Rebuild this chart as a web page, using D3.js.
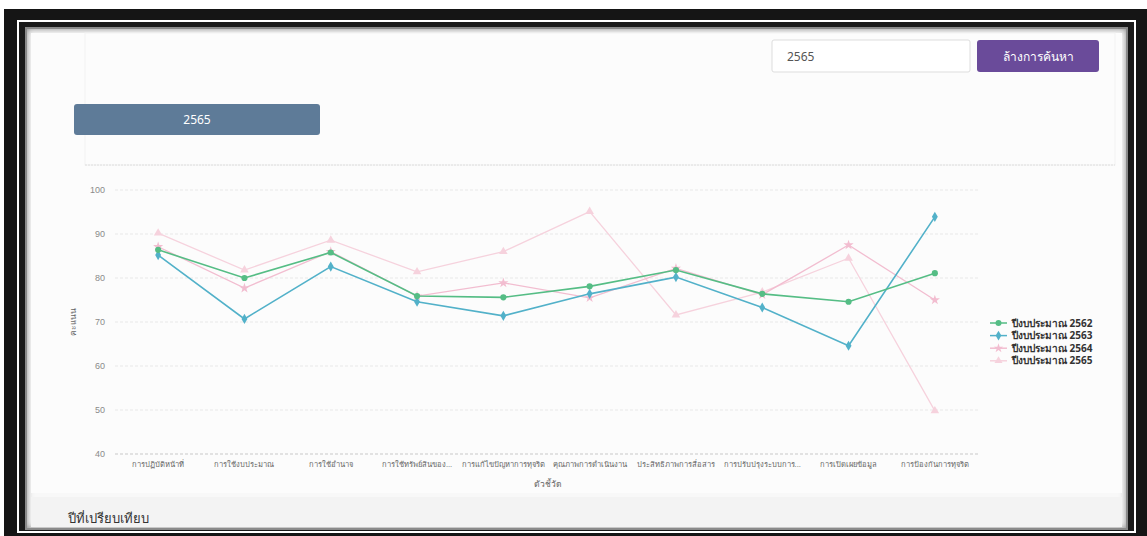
<!DOCTYPE html>
<html>
<head>
<meta charset="utf-8">
<script src="https://cdnjs.cloudflare.com/ajax/libs/d3/7.8.5/d3.min.js"></script>
<style>
  html, body { margin: 0; padding: 0; background: #fff; }
  body { width: 1147px; height: 536px; overflow: hidden; }
  svg { display: block; font-family: "Noto Sans", "DejaVu Sans", sans-serif; }
</style>
</head>
<body>
<svg id="chart" width="1147" height="536"></svg>
<script>
  var categories = [
    'การปฏิบัติหน้าที่',
    'การใช้งบประมาณ',
    'การใช้อำนาจ',
    'การใช้ทรัพย์สินของ...',
    'การแก้ไขปัญหาการทุจริต',
    'คุณภาพการดำเนินงาน',
    'ประสิทธิภาพการสื่อสาร',
    'การปรับปรุงระบบการ...',
    'การเปิดเผยข้อมูล',
    'การป้องกันการทุจริต'
  ];
  var seriesNames = ['ปีงบประมาณ 2562', 'ปีงบประมาณ 2563', 'ปีงบประมาณ 2564', 'ปีงบประมาณ 2565'];
  var values2562 = [86.4, 80.0, 85.8, 75.9, 75.6, 78.1, 81.8, 76.4, 74.6, 81.1];
  var values2563 = [85.2, 70.7, 82.6, 74.6, 71.4, 76.4, 80.2, 73.3, 64.6, 93.9];
  var values2564 = [87.1, 77.7, 86.0, 75.9, 78.9, 75.5, 82.2, 76.2, 87.5, 75.0];
  var values2565 = [90.2, 81.8, 88.6, 81.4, 86.0, 95.1, 71.6, 76.8, 84.5, 49.8];
  var yTicks = [40, 50, 60, 70, 80, 90, 100];
  var selectedYear = '2565';

  var colors = ['#55bd85', '#52b1c9', '#f2bdd0', '#f6d2dd'];
  var symbols = [d3.symbolCircle, d3.symbolDiamond, d3.symbolStar, d3.symbolTriangle];
  var allValues = [values2562, values2563, values2564, values2565];

  var svg = d3.select('#chart');

  // page frame (scanned screenshot border)
  svg.append('rect').attr('x', 4).attr('y', 9).attr('width', 1143).attr('height', 527).attr('fill', '#151515');
  svg.append('rect').attr('x', 17).attr('y', 20).attr('width', 1119).attr('height', 513).attr('fill', '#fff');
  svg.append('rect').attr('x', 19).attr('y', 22).attr('width', 1115).attr('height', 509).attr('fill', '#1a1a1a');

  var defs = svg.append('defs');
  var f = defs.append('filter').attr('id', 'inner').attr('x', 0).attr('y', 0).attr('width', 1).attr('height', 1);
  f.append('feGaussianBlur').attr('stdDeviation', 3);

  svg.append('rect').attr('x', 25).attr('y', 27).attr('width', 1103).attr('height', 503).attr('fill', '#8a8a8a');
  svg.append('rect').attr('x', 27).attr('y', 29).attr('width', 1099).attr('height', 499)
    .attr('fill', '#f8f8f8').attr('filter', 'url(#inner)');
  svg.append('rect').attr('x', 31).attr('y', 33).attr('width', 1091).attr('height', 460).attr('fill', '#fcfcfc');
  svg.append('rect').attr('x', 31).attr('y', 497).attr('width', 1091).attr('height', 30).attr('fill', '#f3f3f3');

  // card outline
  svg.append('rect').attr('x', 85).attr('y', 33).attr('width', 1030).attr('height', 132)
    .attr('fill', 'none').attr('stroke', '#f2f2f2');
  svg.append('line').attr('x1', 85).attr('x2', 1115).attr('y1', 165).attr('y2', 165)
    .attr('stroke', '#dedede').attr('stroke-dasharray', '2,1');

  // search controls
  svg.append('rect').attr('x', 772).attr('y', 40).attr('width', 198).attr('height', 32)
    .attr('rx', 2).attr('fill', '#fff').attr('stroke', '#ddd');
  svg.append('text').attr('x', 787).attr('y', 61).attr('font-size', 12).attr('fill', '#555').text(selectedYear);
  svg.append('rect').attr('x', 977).attr('y', 40).attr('width', 122).attr('height', 32)
    .attr('rx', 3).attr('fill', '#6a4b9a');
  svg.append('text').attr('x', 1038).attr('y', 61).attr('text-anchor', 'middle')
    .attr('font-size', 12).attr('fill', '#fff').text('ล้างการค้นหา');

  svg.append('rect').attr('x', 74).attr('y', 104).attr('width', 246).attr('height', 31)
    .attr('rx', 3).attr('fill', '#5e7b98');
  svg.append('text').attr('x', 197).attr('y', 124).attr('text-anchor', 'middle')
    .attr('font-size', 12).attr('fill', '#fff').text(selectedYear);

  svg.append('text').attr('x', 68).attr('y', 523).attr('font-size', 13).attr('fill', '#333').text('ปีที่เปรียบเทียบ');

  // chart
  var x = d3.scaleBand().domain(categories).range([115, 978]);
  var y = d3.scaleLinear().domain([40, 100]).range([454, 190]);
  var g = svg.append('g');

  g.selectAll('.grid').data(yTicks).enter().append('line')
    .attr('class', 'grid')
    .attr('x1', 115).attr('x2', 978)
    .attr('y1', function (d) { return y(d); })
    .attr('y2', function (d) { return y(d); })
    .attr('stroke', function (d) { return d === 40 ? '#c8c8c8' : '#e8e8e8'; })
    .attr('stroke-dasharray', '3,2');

  var yAxis = g.append('g').attr('transform', 'translate(115,0)')
    .call(d3.axisLeft(y).tickValues(yTicks).tickSize(0).tickPadding(10));
  yAxis.select('.domain').remove();
  yAxis.selectAll('text').attr('font-size', 9).attr('fill', '#8a8a8a');

  var xAxis = g.append('g').attr('transform', 'translate(0,454)')
    .call(d3.axisBottom(x).tickSize(0).tickPadding(8));
  xAxis.select('.domain').remove();
  xAxis.selectAll('text').attr('font-size', 7.6).attr('fill', '#666');

  g.append('text').attr('x', 548).attr('y', 487).attr('text-anchor', 'middle')
    .attr('font-size', 8.5).attr('fill', '#666').text('ตัวชี้วัด');
  g.append('text').attr('transform', 'translate(76,322) rotate(-90)').attr('text-anchor', 'middle')
    .attr('font-size', 8.5).attr('fill', '#666').text('คะแนน');

  var line = d3.line()
    .x(function (d, i) { return x(categories[i]) + x.bandwidth() / 2; })
    .y(function (d) { return y(d); });

  // draw later series first so the darker ones sit on top
  [3, 2, 1, 0].forEach(function (s) {
    var vals = allValues[s];
    g.append('path').datum(vals)
      .attr('d', line)
      .attr('fill', 'none')
      .attr('stroke', colors[s])
      .attr('stroke-width', s < 2 ? 1.6 : 1.3);
    g.selectAll('.pt' + s).data(vals).enter().append('path')
      .attr('class', 'pt' + s)
      .attr('transform', function (d, i) {
        return 'translate(' + (x(categories[i]) + x.bandwidth() / 2) + ',' + y(d) + ')';
      })
      .attr('d', d3.symbol().type(symbols[s]).size(s < 2 ? 30 : 32))
      .attr('fill', colors[s]);
  });

  // legend
  var legend = g.selectAll('.legend').data(seriesNames).enter().append('g')
    .attr('class', 'legend')
    .attr('transform', function (d, i) { return 'translate(990,' + (323 + i * 12.6) + ')'; });
  legend.append('line').attr('x1', 0).attr('x2', 17).attr('y1', 0).attr('y2', 0)
    .attr('stroke', function (d, i) { return colors[i]; }).attr('stroke-width', 1.5);
  legend.append('path')
    .attr('transform', 'translate(8.5,0)')
    .attr('d', function (d, i) { return d3.symbol().type(symbols[i]).size(28)(); })
    .attr('fill', function (d, i) { return colors[i]; });
  legend.append('text').attr('x', 22).attr('y', 3.5)
    .attr('font-size', 10).attr('font-weight', 'bold').attr('fill', '#333')
    .text(function (d) { return d; });
</script>
</body>
</html>
